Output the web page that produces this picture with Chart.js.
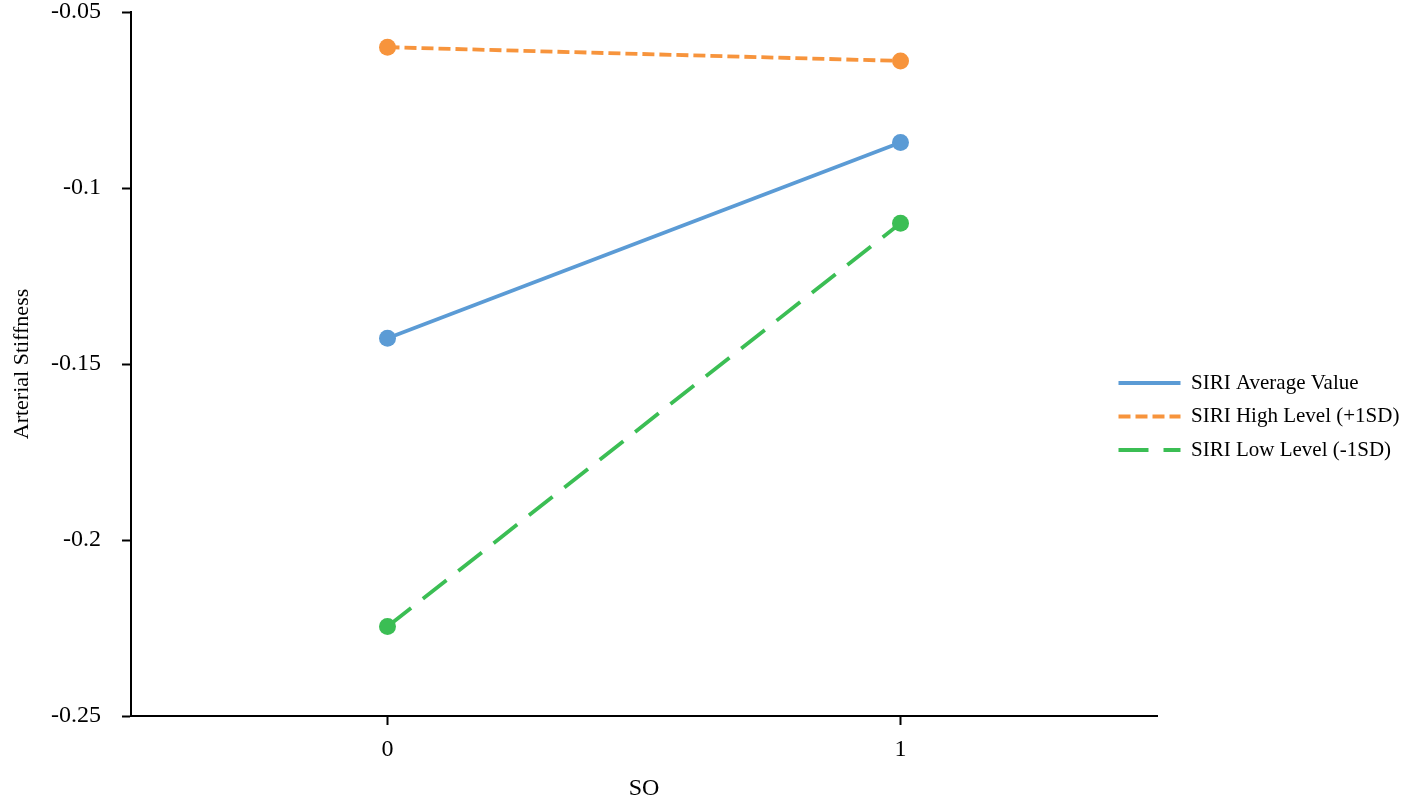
<!DOCTYPE html>
<html>
<head>
<meta charset="utf-8">
<script src="https://cdn.jsdelivr.net/npm/chart.js@4"></script>
<style>
  body { margin: 0; background: #fff; }
</style>
</head>
<body>
<canvas id="chart-rigidez" width="1417" height="803"></canvas>
<script>
// Dados
const soValues = [0, 1];
const xTicks = [0, 1];
const yTicks = [-0.25, -0.2, -0.15, -0.1, -0.05];
const seriesLabels = ['SIRI Average Value', 'SIRI High Level (+1SD)', 'SIRI Low Level (-1SD)'];
const averageValues = [-0.1427, -0.0871];
const highValues = [-0.0600, -0.0639];
const lowValues = [-0.2246, -0.1100];

const cores = ['#5B9BD5', '#F7943C', '#3BBE54'];
const tracos = [[], [12, 5], [30, 15]];
const fonte = "'Liberation Serif', 'Times New Roman', serif";

// Coloca a legenda no lugar certo (à direita, encostada no fim do eixo x)
const posicionarLegenda = {
  id: 'posicionarLegenda',
  afterLayout(chart) {
    const legenda = chart.legend;
    if (!legenda) return;
    legenda.left = 1106;
    legenda.top = 360;
    legenda.right = legenda.left + legenda.width;
    legenda.bottom = legenda.top + legenda.height;
  }
};

function montarSerie(valores, i) {
  return {
    label: seriesLabels[i],
    data: soValues.map((x, k) => ({ x: x, y: valores[k] })),
    borderColor: cores[i],
    backgroundColor: cores[i],
    borderWidth: 3.8,
    borderDash: tracos[i],
    pointRadius: 8.5,
    pointHoverRadius: 8.5,
    pointBackgroundColor: cores[i],
    pointBorderColor: cores[i],
    pointBorderWidth: 0,
    fill: false,
    tension: 0
  };
}

// Itens da legenda com o traço de cada linha
function gerarLegenda(chart) {
  return chart.data.datasets.map((ds, i) => ({
    text: ds.label,
    datasetIndex: i,
    fillStyle: ds.borderColor,
    strokeStyle: ds.borderColor,
    lineWidth: 3.8,
    lineDash: ds.borderDash,
    lineCap: 'butt',
    pointStyle: 'line',
    fontColor: '#000',
    hidden: false
  }));
}

document.addEventListener("DOMContentLoaded", () => {
  const ctx = document.getElementById("chart-rigidez").getContext("2d");
  new Chart(ctx, {
    type: 'line',
    data: {
      datasets: [
        montarSerie(averageValues, 0),
        montarSerie(highValues, 1),
        montarSerie(lowValues, 2)
      ]
    },
    options: {
      responsive: false,
      animation: false,
      layout: { padding: { top: 12, right: 260, bottom: 0, left: 0 } },
      scales: {
        x: {
          type: 'linear',
          min: -0.5,
          max: 1.5,
          afterBuildTicks: scale => { scale.ticks = xTicks.map(v => ({ value: v })); },
          afterFit: scale => {
            scale.height = 87;
            scale.paddingLeft = 0;
            scale.paddingRight = 0;
          },
          border: { display: true, color: '#000', width: 2 },
          grid: { drawOnChartArea: false, drawTicks: true, tickLength: 9, tickWidth: 2, tickColor: '#000' },
          ticks: {
            color: '#000',
            padding: 10,
            font: { family: fonte, size: 24 },
            callback: v => String(v)
          },
          title: {
            display: true,
            text: 'SO',
            color: '#000',
            font: { family: fonte, size: 24 },
            padding: { top: 0, bottom: 0 }
          }
        },
        y: {
          type: 'linear',
          min: -0.25,
          max: -0.05,
          afterBuildTicks: scale => { scale.ticks = yTicks.map(v => ({ value: v })); },
          afterFit: scale => {
            scale.width = 131;
            scale.paddingTop = 0;
            scale.paddingBottom = 0;
          },
          border: { display: true, color: '#000', width: 2 },
          grid: { drawOnChartArea: false, drawTicks: true, tickLength: 9, tickWidth: 2, tickColor: '#000' },
          ticks: {
            color: '#000',
            padding: 21,
            font: { family: fonte, size: 24 },
            callback: v => String(parseFloat(v.toFixed(2)))
          },
          title: {
            display: true,
            text: 'Arterial Stiffness',
            color: '#000',
            font: { family: fonte, size: 22 },
            padding: { top: 9, bottom: 0 }
          }
        }
      },
      plugins: {
        legend: {
          position: 'chartArea',
          align: 'start',
          labels: {
            usePointStyle: true,
            pointStyle: 'line',
            pointStyleWidth: 62,
            padding: 12.5,
            color: '#000',
            font: { family: fonte, size: 21 },
            generateLabels: gerarLegenda
          }
        },
        tooltip: { enabled: false }
      }
    },
    plugins: [posicionarLegenda]
  });
});
</script>
</body>
</html>
